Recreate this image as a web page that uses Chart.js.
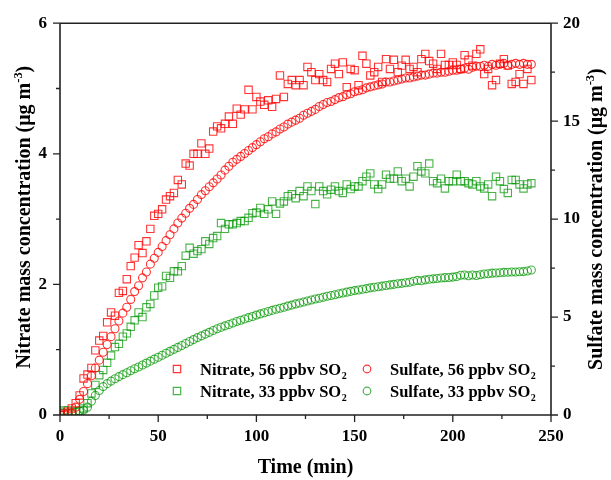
<!DOCTYPE html>
<html>
<head>
<meta charset="utf-8">
<script src="https://cdn.jsdelivr.net/npm/chart.js@4.4.0/dist/chart.umd.min.js"></script>
<style>
  html, body { margin: 0; padding: 0; background: #fff; }
  #wrap { width: 611px; height: 480px; }
</style>
</head>
<body>
<div id="wrap"><canvas id="chart" width="611" height="480"></canvas></div>
<script>
// time axis (min)
const timeMin = [
  0, 2, 4, 6, 8, 10, 12, 14, 16, 18,
  20, 22, 24, 26, 28, 30, 32, 34, 36, 38,
  40, 42, 44, 46, 48, 50, 52, 54, 56, 58,
  60, 62, 64, 66, 68, 70, 72, 74, 76, 78,
  80, 82, 84, 86, 88, 90, 92, 94, 96, 98,
  100, 102, 104, 106, 108, 110, 112, 114, 116, 118,
  120, 122, 124, 126, 128, 130, 132, 134, 136, 138,
  140, 142, 144, 146, 148, 150, 152, 154, 156, 158,
  160, 162, 164, 166, 168, 170, 172, 174, 176, 178,
  180, 182, 184, 186, 188, 190, 192, 194, 196, 198,
  200, 202, 204, 206, 208, 210, 212, 214, 216, 218,
  220, 222, 224, 226, 228, 230, 232, 234, 236, 238,
  240
];

// nitrate, 56 ppbv SO2 (left axis)
const nitrate56 = [
  0.00, 0.02, 0.05, 0.10, 0.18, 0.30, 0.56, 0.62, 0.72, 0.99,
  1.14, 1.21, 1.42, 1.57, 1.52, 1.87, 1.90, 2.08, 2.28, 2.41,
  2.60, 2.48, 2.66, 2.85, 3.05, 3.08, 3.15, 3.30, 3.35, 3.40,
  3.60, 3.53, 3.85, 3.82, 4.00, 4.00, 4.16, 4.00, 4.08, 4.34,
  4.42, 4.39, 4.46, 4.57, 4.46, 4.69, 4.60, 4.68, 4.98, 4.68,
  4.87, 4.80, 4.75, 4.82, 4.72, 4.84, 5.20, 4.87, 5.07, 5.13,
  5.05, 5.13, 5.05, 5.33, 5.25, 5.13, 5.22, 5.13, 5.10, 5.30,
  5.38, 5.22, 5.40, 5.02, 5.30, 5.28, 5.05, 5.50, 5.38, 5.20,
  5.25, 5.33, 5.10, 5.45, 5.30, 5.44, 5.25, 5.35, 5.44, 5.30,
  5.33, 5.25, 5.45, 5.53, 5.42, 5.38, 5.30, 5.53, 5.36, 5.36,
  5.40, 5.36, 5.30, 5.51, 5.44, 5.35, 5.53, 5.60, 5.22, 5.30,
  5.05, 5.13, 5.38, 5.45, 5.35, 5.07, 5.10, 5.22, 5.07, 5.30,
  5.13
];

// sulfate, 56 ppbv SO2 (right axis)
const sulfate56 = [
  0.00, 0.00, 0.05, 0.10, 0.40, 0.80, 1.20, 1.60, 2.00, 2.40,
  2.80, 3.20, 3.60, 4.00, 4.40, 4.80, 5.20, 5.50, 5.90, 6.30,
  6.60, 7.00, 7.30, 7.70, 8.00, 8.30, 8.60, 8.90, 9.20, 9.50,
  9.80, 10.05, 10.30, 10.55, 10.75, 11.00, 11.25, 11.45, 11.65, 11.85,
  12.05, 12.25, 12.50, 12.70, 12.90, 13.05, 13.20, 13.35, 13.50, 13.65,
  13.80, 13.95, 14.10, 14.20, 14.35, 14.45, 14.60, 14.70, 14.85, 14.95,
  15.05, 15.15, 15.30, 15.40, 15.50, 15.60, 15.75, 15.85, 15.95, 16.00,
  16.10, 16.20, 16.25, 16.35, 16.40, 16.50, 16.55, 16.60, 16.70, 16.75,
  16.80, 16.85, 16.90, 17.00, 17.00, 17.05, 17.10, 17.15, 17.20, 17.20,
  17.25, 17.30, 17.35, 17.35, 17.40, 17.45, 17.45, 17.50, 17.50, 17.55,
  17.60, 17.60, 17.65, 17.70, 17.65, 17.75, 17.80, 17.80, 17.85, 17.80,
  17.90, 17.85, 17.90, 17.95, 17.85, 17.90, 17.95, 17.90, 17.95, 17.90,
  17.90
];

// nitrate, 33 ppbv SO2 (left axis)
const nitrate33 = [
  0.05, 0.07, 0.07, 0.05, 0.05, 0.06, 0.10, 0.18, 0.33, 0.46,
  0.61, 0.69, 0.80, 0.91, 1.04, 1.09, 1.20, 1.25, 1.35, 1.45,
  1.57, 1.50, 1.65, 1.70, 1.83, 1.95, 1.97, 2.13, 2.10, 2.20,
  2.20, 2.28, 2.44, 2.56, 2.47, 2.51, 2.54, 2.66, 2.62, 2.71,
  2.74, 2.94, 2.85, 2.92, 2.92, 2.94, 2.97, 2.97, 3.02, 3.09,
  3.10, 3.17, 3.08, 3.15, 3.27, 3.08, 3.24, 3.27, 3.35, 3.38,
  3.32, 3.43, 3.35, 3.50, 3.43, 3.23, 3.50, 3.43, 3.38, 3.45,
  3.50, 3.43, 3.40, 3.53, 3.46, 3.50, 3.50, 3.58, 3.65, 3.70,
  3.53, 3.46, 3.53, 3.68, 3.62, 3.62, 3.73, 3.58, 3.62, 3.50,
  3.65, 3.81, 3.73, 3.70, 3.85, 3.58, 3.55, 3.62, 3.47, 3.58,
  3.58, 3.68, 3.58, 3.58, 3.55, 3.53, 3.58, 3.50, 3.47, 3.53,
  3.35, 3.65, 3.58, 3.46, 3.40, 3.60, 3.60, 3.53, 3.47, 3.53,
  3.55
];

// sulfate, 33 ppbv SO2 (right axis)
const sulfate33 = [
  0.10, 0.10, 0.10, 0.10, 0.15, 0.20, 0.25, 0.40, 0.70, 1.00,
  1.25, 1.45, 1.60, 1.73, 1.85, 1.96, 2.06, 2.16, 2.26, 2.36,
  2.45, 2.55, 2.65, 2.75, 2.85, 2.95, 3.05, 3.15, 3.25, 3.35,
  3.45, 3.55, 3.65, 3.75, 3.85, 3.95, 4.04, 4.13, 4.22, 4.31,
  4.40, 4.48, 4.55, 4.62, 4.70, 4.77, 4.84, 4.90, 4.97, 5.03,
  5.10, 5.16, 5.22, 5.28, 5.34, 5.40, 5.45, 5.50, 5.56, 5.61,
  5.67, 5.72, 5.77, 5.82, 5.87, 5.92, 5.96, 6.01, 6.06, 6.10,
  6.14, 6.19, 6.23, 6.27, 6.31, 6.35, 6.38, 6.42, 6.45, 6.49,
  6.52, 6.55, 6.58, 6.61, 6.64, 6.67, 6.70, 6.72, 6.75, 6.78,
  6.83, 6.87, 6.85, 6.90, 6.93, 6.95, 6.97, 6.99, 7.01, 7.02,
  7.04, 7.07, 7.13, 7.15, 7.11, 7.15, 7.12, 7.16, 7.20, 7.21,
  7.24, 7.25, 7.26, 7.28, 7.29, 7.30, 7.30, 7.31, 7.32, 7.35,
  7.40
];

const seriesLabels = ['Nitrate, 56 ppbv SO\u2082', 'Sulfate, 56 ppbv SO\u2082', 'Nitrate, 33 ppbv SO\u2082', 'Sulfate, 33 ppbv SO\u2082'];
const xTicks = [0, 50, 100, 150, 200, 250];
const leftTicks = [0, 2, 4, 6];
const rightTicks = [0, 5, 10, 15, 20];

const RED = 'rgba(255, 0, 0, 0.8)';
const GREEN = 'rgba(0, 150, 0, 0.72)';
const SERIF = '"Liberation Serif", "Times New Roman", serif';
const FRAME = '#222';

function toPoints(xs, ys) {
    return xs.map((t, i) => ({ x: t, y: ys[i] }));
}

// draws a text made of pieces (normal, superscript, subscript), centered on (x, y)
function drawRich(ctx, parts, x, y, angle) {
    ctx.save();
    ctx.translate(x, y);
    ctx.rotate(angle);
    let total = 0;
    const widths = parts.map(p => {
        ctx.font = `bold ${p.size}px ${SERIF}`;
        const w = ctx.measureText(p.text).width;
        total += w;
        return w;
    });
    let cx = -total / 2;
    ctx.textAlign = 'left';
    ctx.textBaseline = 'alphabetic';
    ctx.fillStyle = '#000';
    parts.forEach((p, i) => {
        ctx.font = `bold ${p.size}px ${SERIF}`;
        ctx.fillText(p.text, cx, p.dy);
        cx += widths[i];
    });
    ctx.restore();
}

const framePlugin = {
    id: 'frame',
    afterDatasetsDraw(chart) {
        const ctx = chart.ctx;
        const a = chart.chartArea;
        const xs = chart.scales.x, yl = chart.scales.y, yr = chart.scales.y2;

        ctx.save();
        ctx.strokeStyle = FRAME;
        ctx.lineWidth = 1.6;
        ctx.beginPath();
        ctx.moveTo(a.left, a.top); ctx.lineTo(a.right, a.top);
        ctx.moveTo(a.left, a.bottom); ctx.lineTo(a.right, a.bottom);
        ctx.moveTo(a.left, a.top); ctx.lineTo(a.left, a.bottom);
        ctx.moveTo(a.right, a.top); ctx.lineTo(a.right, a.bottom);
        ctx.stroke();

        // ticks (major + minor), pointing outward
        ctx.lineWidth = 1.3;
        ctx.beginPath();
        for (let v = 0; v <= 250; v += 25) {
            const px = xs.getPixelForValue(v);
            const len = v % 50 === 0 ? 7 : 4;
            ctx.moveTo(px, a.bottom); ctx.lineTo(px, a.bottom + len);
        }
        for (let v = 0; v <= 6; v += 1) {
            const py = yl.getPixelForValue(v);
            const len = v % 2 === 0 ? 7 : 4;
            ctx.moveTo(a.left, py); ctx.lineTo(a.left - len, py);
        }
        for (let v = 0; v <= 20; v += 2.5) {
            const py = yr.getPixelForValue(v);
            const len = v % 5 === 0 ? 7 : 4;
            ctx.moveTo(a.right, py); ctx.lineTo(a.right + len, py);
        }
        ctx.stroke();
        ctx.restore();

        // axis titles (both vertical ones read bottom to top)
        const midY = (a.top + a.bottom) / 2;
        const ts = 20;
        drawRich(ctx, [
            { text: 'Nitrate mass concentration (\u03bcg m', size: ts, dy: ts * 0.35 },
            { text: '-3', size: ts * 0.62, dy: ts * 0.35 - ts * 0.42 },
            { text: ')', size: ts, dy: ts * 0.35 }
        ], 23, midY - 2, -Math.PI / 2);
        drawRich(ctx, [
            { text: 'Sulfate mass concentration (\u03bcg m', size: ts, dy: ts * 0.35 },
            { text: '-3', size: ts * 0.62, dy: ts * 0.35 - ts * 0.42 },
            { text: ')', size: ts, dy: ts * 0.35 }
        ], 595, midY, -Math.PI / 2);
        drawRich(ctx, [{ text: 'Time (min)', size: ts, dy: ts * 0.35 }], (a.left + a.right) / 2, 466, 0);

        // legend, two columns inside the plot
        const colX = [a.left + 117, a.left + 307];
        const rowY = [a.bottom - 46, a.bottom - 24];
        chart.data.datasets.forEach((ds, i) => {
            const mx = colX[i % 2];
            const my = rowY[Math.floor(i / 2)];
            ctx.save();
            ctx.strokeStyle = ds.borderColor;
            ctx.lineWidth = 1.2;
            ctx.beginPath();
            if (ds.pointStyle === 'rect') {
                ctx.rect(mx - 3.7, my - 3.7, 7.4, 7.4);
            } else {
                ctx.arc(mx, my, 3.8, 0, Math.PI * 2);
            }
            ctx.stroke();
            ctx.restore();
            const main = ds.label.replace('\u2082', '');
            ctx.save();
            ctx.font = `bold 16.5px ${SERIF}`;
            ctx.fillStyle = '#000';
            ctx.textBaseline = 'alphabetic';
            ctx.textAlign = 'left';
            ctx.fillText(main, mx + 23, my + 6);
            const w = ctx.measureText(main).width;
            ctx.font = `bold 10px ${SERIF}`;
            ctx.fillText('2', mx + 23 + w + 0.5, my + 10);
            ctx.restore();
        });
    }
};

const tickFont = { family: SERIF, size: 17, weight: 'bold' };

new Chart(document.getElementById('chart'), {
    type: 'scatter',
    data: {
        datasets: [
            {
                label: seriesLabels[0], data: toPoints(timeMin, nitrate56), yAxisID: 'y',
                pointStyle: 'rect', pointRadius: 5.2, borderColor: RED, backgroundColor: 'rgba(0,0,0,0)', borderWidth: 1.1
            },
            {
                label: seriesLabels[1], data: toPoints(timeMin, sulfate56), yAxisID: 'y2',
                pointStyle: 'circle', pointRadius: 4, borderColor: RED, backgroundColor: 'rgba(0,0,0,0)', borderWidth: 1.1
            },
            {
                label: seriesLabels[2], data: toPoints(timeMin, nitrate33), yAxisID: 'y',
                pointStyle: 'rect', pointRadius: 5.2, borderColor: GREEN, backgroundColor: 'rgba(0,0,0,0)', borderWidth: 1.1
            },
            {
                label: seriesLabels[3], data: toPoints(timeMin, sulfate33), yAxisID: 'y2',
                pointStyle: 'circle', pointRadius: 4, borderColor: GREEN, backgroundColor: 'rgba(0,0,0,0)', borderWidth: 1.1
            }
        ]
    },
    options: {
        responsive: false,
        animation: false,
        layout: { padding: { top: 21, left: 0, right: 0, bottom: 0 } },
        plugins: {
            legend: { display: false },
            tooltip: { enabled: false }
        },
        scales: {
            x: {
                type: 'linear', min: 0, max: 250,
                afterBuildTicks: s => { s.ticks = xTicks.map(v => ({ value: v })); },
                afterFit: s => { s.height = 65; },
                ticks: { font: tickFont, color: '#000', padding: 11, maxRotation: 0 },
                grid: { display: false, drawTicks: false },
                border: { display: false }
            },
            y: {
                type: 'linear', position: 'left', min: 0, max: 6,
                afterBuildTicks: s => { s.ticks = leftTicks.map(v => ({ value: v })); },
                afterFit: s => { s.width = 60; },
                ticks: { font: tickFont, color: '#000', padding: 13 },
                grid: { display: false, drawTicks: false },
                border: { display: false }
            },
            y2: {
                type: 'linear', position: 'right', min: 0, max: 20,
                afterBuildTicks: s => { s.ticks = rightTicks.map(v => ({ value: v })); },
                afterFit: s => { s.width = 60; },
                ticks: { font: tickFont, color: '#000', padding: 12 },
                grid: { display: false, drawTicks: false },
                border: { display: false }
            }
        }
    },
    plugins: [framePlugin]
});
</script>
</body>
</html>
